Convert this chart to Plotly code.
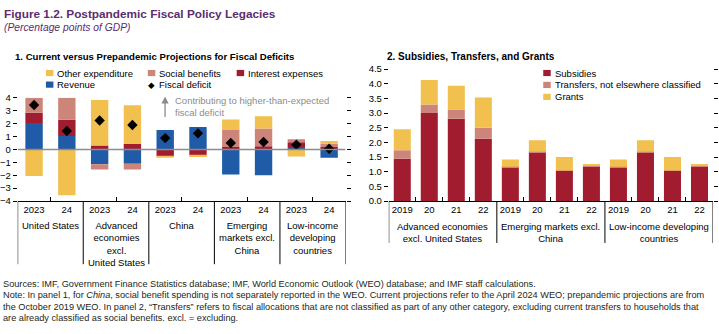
import plotly.graph_objects as go

W, H = 719, 334

# ---- Panel 1: current vs prepandemic projections for fiscal deficits ----
p1_years = ["2023", "24"] * 5
p1_groups = [
    "United States",
    "Advanced<br>economies<br>excl.<br>United States",
    "China",
    "Emerging<br>markets excl.<br>China",
    "Low-income<br>developing<br>countries",
]
revenue = [2.05, 1.05, -1.15, -1.10, 1.50, 1.75, -1.95, -2.00, 0.20, -0.65]
interest = [0.80, 1.25, 0.30, 0.43, -0.55, -0.43, 0.20, 0.25, 0.35, 0.20]
social = [1.15, 1.70, -0.40, -0.45, 0.00, 0.00, 1.30, 1.38, 0.25, 0.25]
other = [-2.05, -3.55, 3.53, 3.00, -0.07, -0.15, 0.83, 0.95, -0.55, 0.20]
deficit = [3.45, 1.43, 2.25, 1.90, 0.88, 1.25, 0.50, 0.58, 0.37, 0.05]

# ---- Panel 2: subsidies, transfers and grants ----
p2_years = ["2019", "20", "21", "22"] * 3
p2_groups = [
    "Advanced economies<br>excl. United States",
    "Emerging markets excl.<br>China",
    "Low-income developing<br>countries",
]
subsidies = [1.44, 3.00, 2.81, 2.12, 1.15, 1.66, 1.03, 1.19, 1.15, 1.66, 1.03, 1.19]
transfers = [0.29, 0.29, 0.31, 0.38, 0.02, 0.02, 0.01, 0.01, 0.02, 0.02, 0.01, 0.01]
grants = [0.72, 0.84, 0.81, 1.03, 0.25, 0.39, 0.46, 0.06, 0.25, 0.39, 0.46, 0.06]

YELLOW = "#F1C04E"
PINK = "#CD857A"
RED = "#A21C30"
BLUE = "#1F5BA6"
PURPLE = "#5B2C6F"
GREY = "#8C8C8C"
FONT = "Liberation Sans, Arial, sans-serif"
FS = 9.5


def px(x):
    return x / W


def py(y):
    return 1 - y / H


x1 = list(range(len(p1_years)))
x2 = list(range(len(p2_years)))

fig = go.Figure()

for name, vals, color in [
    ("Revenue", revenue, BLUE),
    ("Interest expenses", interest, RED),
    ("Social benefits", social, PINK),
    ("Other expenditure", other, YELLOW),
]:
    fig.add_bar(x=x1, y=vals, name=name, width=0.53,
                marker=dict(color=color, line_width=0),
                xaxis="x", yaxis="y", showlegend=False)

fig.add_scatter(x=x1, y=deficit, name="Fiscal deficit", mode="markers",
                marker=dict(symbol="diamond", size=8, color="black"),
                xaxis="x", yaxis="y", showlegend=False)

for name, vals, color in [
    ("Subsidies", subsidies, RED),
    ("Transfers, not elsewhere classified", transfers, PINK),
    ("Grants", grants, YELLOW),
]:
    fig.add_bar(x=x2, y=vals, name=name, width=0.63,
                marker=dict(color=color, line_width=0),
                xaxis="x2", yaxis="y2", showlegend=False)

tickfont = dict(family=FONT, size=FS, color="black")

fig.update_layout(
    width=W, height=H,
    margin=dict(l=0, r=0, t=0, b=0),
    paper_bgcolor="white", plot_bgcolor="white",
    barmode="relative",
    font=dict(family=FONT, size=FS, color="black"),
    xaxis=dict(
        domain=[px(16.7), px(345)], range=[-0.5, 9.5], anchor="y",
        tickmode="array", tickvals=x1, ticktext=p1_years, ticks="", ticklen=0,
        tickfont=tickfont, showline=True, linecolor="black", linewidth=1,
        showgrid=False, zeroline=False,
        minor=dict(tickmode="array", tickvals=[0.5, 2.5, 4.5, 6.5, 8.5],
                   ticks="inside", ticklen=4, tickcolor="black", showgrid=False),
    ),
    yaxis=dict(
        domain=[py(201.7), py(95)], range=[-4, 4], anchor="x",
        tickmode="array", tickvals=list(range(-4, 5)),
        ticks="outside", ticklen=4, tickcolor="black", mirror="ticks",
        tickfont=tickfont, showline=False, showgrid=False, zeroline=False,
    ),
    xaxis2=dict(
        domain=[px(388.3), px(713)], range=[-0.5, 11.5], anchor="y2",
        tickmode="array", tickvals=x2, ticktext=p2_years, ticks="", ticklen=0,
        tickfont=tickfont, showline=True, linecolor="black", linewidth=1,
        showgrid=False, zeroline=False,
        minor=dict(tickmode="array",
                   tickvals=[0.5, 1.5, 2.5, 4.5, 5.5, 6.5, 8.5, 9.5, 10.5],
                   ticks="inside", ticklen=4, tickcolor="black", showgrid=False),
    ),
    yaxis2=dict(
        domain=[py(201.7), py(65.2)], range=[0, 4.5], anchor="x2",
        tickmode="linear", tick0=0, dtick=0.5, tickformat=".1f",
        ticks="outside", ticklen=4, tickcolor="black", mirror="ticks",
        tickfont=tickfont, showline=False, showgrid=False, zeroline=False,
    ),
)

shapes = []
annotations = []

# zero line across panel 1
shapes.append(dict(type="line", xref="x", yref="y", x0=-0.5, x1=9.5, y0=0, y1=0,
                   line=dict(color=GREY, width=1.5), layer="above"))

# group separators below the category axes
for xv in [-0.5, 1.5, 3.5, 5.5, 7.5, 9.5]:
    shapes.append(dict(type="line", xref="x", yref="paper", x0=xv, x1=xv,
                       y0=py(201.7), y1=py(267), line=dict(color="black", width=1)))
for xv in [-0.5, 3.5, 7.5, 11.5]:
    shapes.append(dict(type="line", xref="x2", yref="paper", x0=xv, x1=xv,
                       y0=py(201.7), y1=py(245), line=dict(color="black", width=1)))

# group labels
for i, g in enumerate(p1_groups):
    annotations.append(dict(xref="x", yref="paper", x=2 * i + 0.5, y=py(219),
                            text=g, showarrow=False, xanchor="center", yanchor="top",
                            align="center", font=dict(family=FONT, size=FS)))
for i, g in enumerate(p2_groups):
    annotations.append(dict(xref="x2", yref="paper", x=4 * i + 1.5, y=py(220),
                            text=g, showarrow=False, xanchor="center", yanchor="top",
                            align="center", font=dict(family=FONT, size=FS)))


def swatch(x, y, color):
    shapes.append(dict(type="rect", xref="paper", yref="paper",
                       x0=px(x), x1=px(x + 7.5), y0=py(y + 3.2), y1=py(y - 3.2),
                       fillcolor=color, line_width=0))


def label(x, y, text, size=FS, color="black", **kw):
    annotations.append(dict(xref="paper", yref="paper", x=px(x), y=py(y), text=text,
                            showarrow=False, xanchor="left", yanchor="middle",
                            font=dict(family=FONT, size=size, color=color), **kw))


# panel 1 legend
swatch(45, 69.3, YELLOW); label(54, 69.3, "Other expenditure")
swatch(147, 69.3, PINK); label(156, 69.3, "Social benefits")
swatch(236, 69.3, RED); label(245, 69.3, "Interest expenses")
swatch(45, 81.3, BLUE); label(54, 81.3, "Revenue")
annotations.append(dict(xref="paper", yref="paper", x=px(151), y=py(81.3), text="◆",
                        showarrow=False, xanchor="center", yanchor="middle",
                        font=dict(family="DejaVu Sans", size=8.5, color="black")))
label(156, 81.3, "Fiscal deficit")

# panel 2 legend
swatch(543, 69.3, RED); label(552.5, 69.3, "Subsidies")
swatch(543, 81.6, PINK); label(552.5, 81.6, "Transfers, not elsewhere classified")
swatch(543, 94, YELLOW); label(552.5, 94, "Grants")

# explanatory arrow in panel 1
annotations.append(dict(xref="paper", yref="paper", axref="pixel", ayref="pixel",
                        x=px(164.3), y=py(93.5), ax=0, ay=22, text="",
                        showarrow=True, arrowhead=2, arrowsize=1.1, arrowwidth=1.3,
                        arrowcolor=GREY))
label(172.5, 98, "Contributing to higher-than-expected", color=GREY)
label(172.5, 110.5, "fiscal deficit", color=GREY)

# titles
label(1, 8.5, "<b>Figure 1.2. Postpandemic Fiscal Policy Legacies</b>", size=11.8, color=PURPLE)
label(1, 22.5, "<i>(Percentage points of GDP)</i>", size=10.3, color=PURPLE)
label(12.5, 52, "<b>1. Current versus Prepandemic Projections for Fiscal Deficits</b>", size=9.6)
label(384.5, 52, "<b>2. Subsidies, Transfers, and Grants</b>", size=10)

# notes
notes = [
    "Sources: IMF, Government Finance Statistics database; IMF, World Economic Outlook (WEO) database; and IMF staff calculations.",
    "Note: In panel 1, for <i>China</i>, social benefit spending is not separately reported in the WEO. Current projections refer to the April 2024 WEO; prepandemic projections are from",
    "the October 2019 WEO. In panel 2, “Transfers” refers to fiscal allocations that are not classified as part of any other category, excluding current transfers to households that",
    "are already classified as social benefits. excl. = excluding.",
]
for k, line in enumerate(notes):
    label(0, 287.5 + 11.7 * k, line, size=9.2, color="#231F20")

fig.update_layout(shapes=shapes, annotations=annotations)
fig.write_html("out.html")
